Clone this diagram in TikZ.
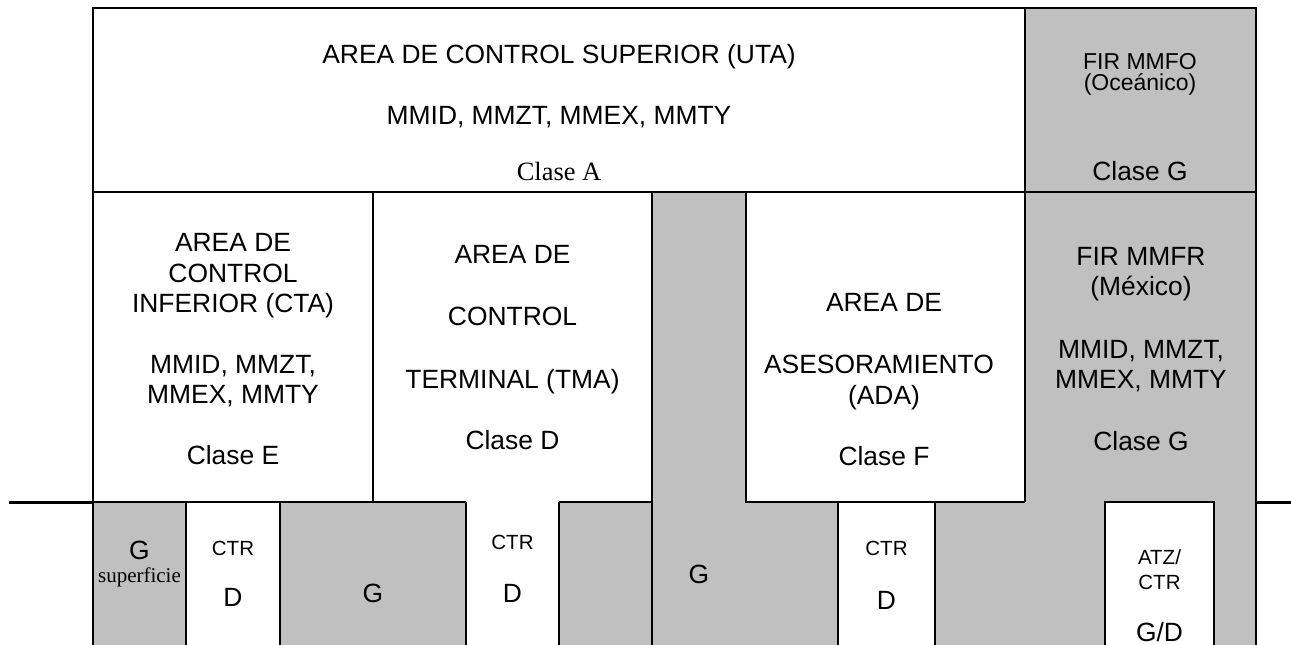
\documentclass[tikz,border=0pt]{standalone}
\usepackage{fontspec}
\setmainfont{Liberation Serif}
\setsansfont{Liberation Sans}
\definecolor{zone}{RGB}{192,192,192}
\begin{document}
\begin{tikzpicture}[x=1pt,y=-1pt,
  box/.style={line width=2pt},
  ground/.style={line width=3pt},
  txtbig/.style={anchor=base, inner sep=0pt, font=\sffamily\fontsize{26.4}{30}\selectfont},
  txtmid/.style={anchor=base, inner sep=0pt, font=\sffamily\fontsize{23}{26}\selectfont},
  txtsmall/.style={anchor=base, inner sep=0pt, font=\sffamily\fontsize{20.5}{24}\selectfont},
  serifbig/.style={anchor=base, inner sep=0pt, font=\rmfamily\fontsize{26.4}{30}\selectfont},
  serifsmall/.style={anchor=base, inner sep=0pt, font=\rmfamily\fontsize{21}{24}\selectfont}
]
\useasboundingbox (0,0) rectangle (1291,645);
% grey zones
\fill[zone] (1025,8) rectangle (1256,645);
\fill[zone] (935,502) rectangle (1025,645);
\fill[white] (1105,502) rectangle (1214,645);
\fill[zone] (652,192) rectangle (746,645);
\fill[zone] (559,502) rectangle (838,645);
\fill[zone] (280,502) rectangle (466,645);
\fill[zone] (93,502) rectangle (186,645);
% borders
\draw[box] (93,8) rectangle (1256,192);
\draw[box] (1025,8) -- (1025,502);
\draw[box] (1256,192) -- (1256,645);
\draw[box] (93,192) -- (93,645);
\draw[box] (373,192) -- (373,502);
\draw[box] (652,192) -- (652,645);
\draw[box] (746,192) -- (746,502) -- (1025,502);
\draw[box] (93,502) -- (466,502);
\draw[box] (559,502) -- (652,502);
\draw[box] (186,502) -- (186,645);
\draw[box] (280,502) -- (280,645);
\draw[box] (466,502) -- (466,645);
\draw[box] (559,502) -- (559,645);
\draw[box] (838,502) -- (838,645);
\draw[box] (935,502) -- (935,645);
\draw[box] (1105,645) -- (1105,502) -- (1214,502) -- (1214,645);
% ground line
\draw[ground] (9,502) -- (93,502);
\draw[ground] (1256,502) -- (1291,502);
% UTA
\node[txtbig] (uta1) at (559,63.5) {AREA DE CONTROL SUPERIOR (UTA)};
\node[txtbig] (uta2) at (559,124.5) {MMID, MMZT, MMEX, MMTY};
\node[serifbig] (uta3) at (559,180.7) {Clase A};
% MMFO
\node[txtmid] (fo1) at (1140,69.4) {FIR MMFO};
\node[txtmid] (fo2) at (1140,90.4) {(Oceánico)};
\node[txtbig] (fo3) at (1140,180.5) {Clase G};
% CTA
\node[txtbig] (cta1) at (233,251) {AREA DE};
\node[txtbig] (cta2) at (233,282.5) {CONTROL};
\node[txtbig] (cta3) at (233,312.5) {INFERIOR (CTA)};
\node[txtbig] (cta4) at (233,373.5) {MMID, MMZT,};
\node[txtbig] (cta5) at (233,403.5) {MMEX, MMTY};
\node[txtbig] (cta6) at (233,464.5) {Clase E};
% TMA
\node[txtbig] (tma1) at (512.5,263.5) {AREA DE};
\node[txtbig] (tma2) at (512.5,325.5) {CONTROL};
\node[txtbig] (tma3) at (512.5,388.5) {TERMINAL (TMA)};
\node[txtbig] (tma4) at (512.5,449.5) {Clase D};
% ADA
\node[txtbig] (ada1) at (884,311.5) {AREA DE};
\node[txtbig] (ada2) at (879,373.5) {ASESORAMIENTO};
\node[txtbig] (ada3) at (884,404.5) {(ADA)};
\node[txtbig] (ada4) at (884,465.5) {Clase F};
% MMFR
\node[txtbig] (fr1) at (1141,265.5) {FIR MMFR};
\node[txtbig] (fr2) at (1141,295.5) {(México)};
\node[txtbig] (fr3) at (1141,358.5) {MMID, MMZT,};
\node[txtbig] (fr4) at (1141,388.5) {MMEX, MMTY};
\node[txtbig] (fr5) at (1141,450.5) {Clase G};
% bottom row
\node[txtbig] (b1) at (139.5,559.5) {G};
\node[serifsmall] (b1s) at (139.5,582.7) {superficie};
\node[txtsmall] (b2) at (233,555.2) {CTR};
\node[txtbig] (b2d) at (233,606.5) {D};
\node[txtbig] (b3) at (373,602.5) {G};
\node[txtsmall] (b4) at (512.5,549.2) {CTR};
\node[txtbig] (b4d) at (512.5,602.5) {D};
\node[txtbig] (b5) at (699,583.5) {G};
\node[txtsmall] (b6) at (886.5,555.2) {CTR};
\node[txtbig] (b6d) at (886.5,609.5) {D};
\node[txtsmall] (b7a) at (1159.5,564.2) {ATZ/};
\node[txtsmall] (b7b) at (1159.5,589.2) {CTR};
\node[txtbig] (b7c) at (1159.5,641.5) {G/D};
\end{tikzpicture}
\end{document}
